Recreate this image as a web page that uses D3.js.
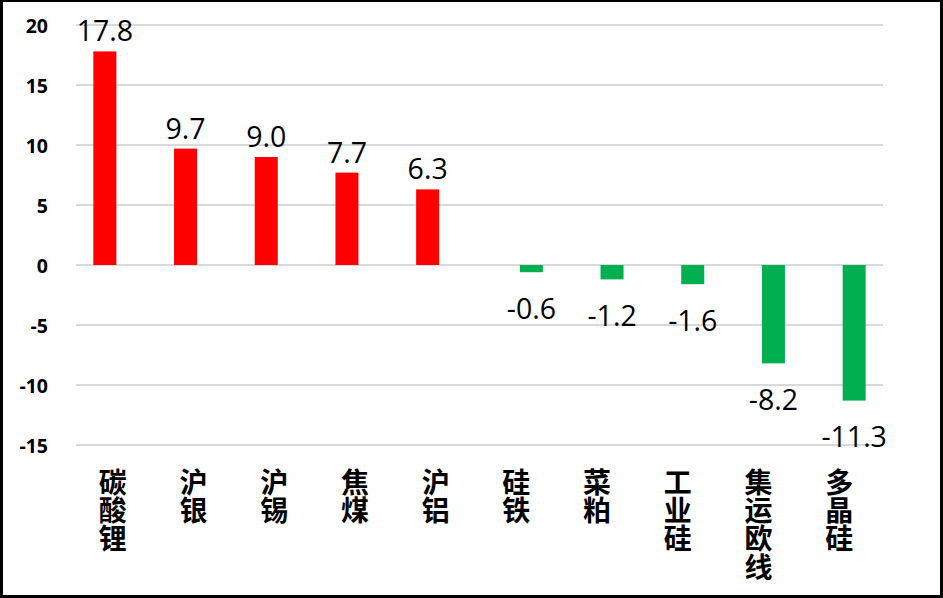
<!DOCTYPE html>
<html>
<head>
<meta charset="utf-8">
<script src="https://cdn.jsdelivr.net/npm/d3@7"></script>
<style>
  html, body { margin: 0; padding: 0; background: #fff; }
  svg { display: block; }
</style>
</head>
<body>
<svg id="chart" width="943" height="598"></svg>
<script>
const categories = ["碳酸锂", "沪银", "沪锡", "焦煤", "沪铝", "硅铁", "菜粕", "工业硅", "集运欧线", "多晶硅"];
const values = [17.8, 9.7, 9.0, 7.7, 6.3, -0.6, -1.2, -1.6, -8.2, -11.3];
const seriesNames = ["上涨", "下跌"];
const yTicks = [20, 15, 10, 5, 0, -5, -10, -15];

const svg = d3.select("#chart");
const W = 943, H = 598;

const x = d3.scaleBand().domain(categories).range([76, 883]).padding(0);
const y = d3.scaleLinear().domain([-15, 20]).range([445, 25]);
const barW = 23;
const sub = d3.scaleBand().domain(seriesNames)
  .range([x.bandwidth() / 2 - barW, x.bandwidth() / 2 + barW]).padding(0);

const colors = { "上涨": "#FF0000", "下跌": "#00B050" };
const seriesOf = v => v >= 0 ? "上涨" : "下跌";
const hy = s => s.replace("\u2212", "-");
const fmtInt = d => hy(d3.format("d")(d));
const fmt1 = d => hy(d3.format(".1f")(d));

// gridlines
svg.append("g").selectAll("line").data(yTicks).join("line")
  .attr("x1", x.range()[0]).attr("x2", x.range()[1])
  .attr("y1", d => y(d)).attr("y2", d => y(d))
  .attr("stroke", "#d9d9d9").attr("stroke-width", 2);

// y axis labels
const yAxis = d3.axisLeft(y).tickValues(yTicks).tickSize(0).tickPadding(0).tickFormat(fmtInt);
const gy = svg.append("g").attr("transform", "translate(48,0)").call(yAxis);
gy.select(".domain").remove();
gy.selectAll("text")
  .attr("font-family", "'Open Sans', 'Noto Sans', sans-serif")
  .attr("font-weight", 700)
  .attr("font-size", 19.5)
  .attr("fill", "#000")
  .attr("dy", "0.36em");

// bars
const data = categories.map((c, i) => ({ c, v: values[i], s: seriesOf(values[i]) }));
svg.append("g").selectAll("rect").data(data).join("rect")
  .attr("x", d => x(d.c) + sub(d.s))
  .attr("width", sub.bandwidth())
  .attr("y", d => Math.min(y(d.v), y(0)))
  .attr("height", d => Math.abs(y(d.v) - y(0)))
  .attr("fill", d => colors[d.s]);

// value labels
svg.append("g").selectAll("text").data(data).join("text")
  .attr("x", d => x(d.c) + sub(d.s) + sub.bandwidth() / 2)
  .attr("y", d => d.v >= 0 ? y(d.v) - 10 : y(d.v) + 46.5)
  .attr("text-anchor", "middle")
  .attr("font-family", "'Open Sans', 'Noto Sans', sans-serif")
  .attr("font-size", 28.5)
  .attr("fill", "#000")
  .text(d => fmt1(d.v));

// category labels (vertical)
svg.append("g").selectAll("text").data(categories).join("text")
  .attr("x", c => x(c) + x.bandwidth() / 2 - 3.5)
  .attr("y", 468)
  .attr("text-anchor", "start")
  .style("writing-mode", "vertical-rl")
  .style("text-orientation", "upright")
  .style("letter-spacing", "0.3px")
  .attr("font-family", "'Noto Sans CJK SC', sans-serif")
  .attr("font-weight", 700)
  .attr("font-size", 28)
  .attr("fill", "#000")
  .text(c => c);

// border
svg.append("rect")
  .attr("x", 1.5).attr("y", 0.5)
  .attr("width", W - 2.5 - 0.5).attr("height", H - 2)
  .attr("fill", "none").attr("stroke", "#000").attr("stroke-width", 3);
</script>
</body>
</html>
